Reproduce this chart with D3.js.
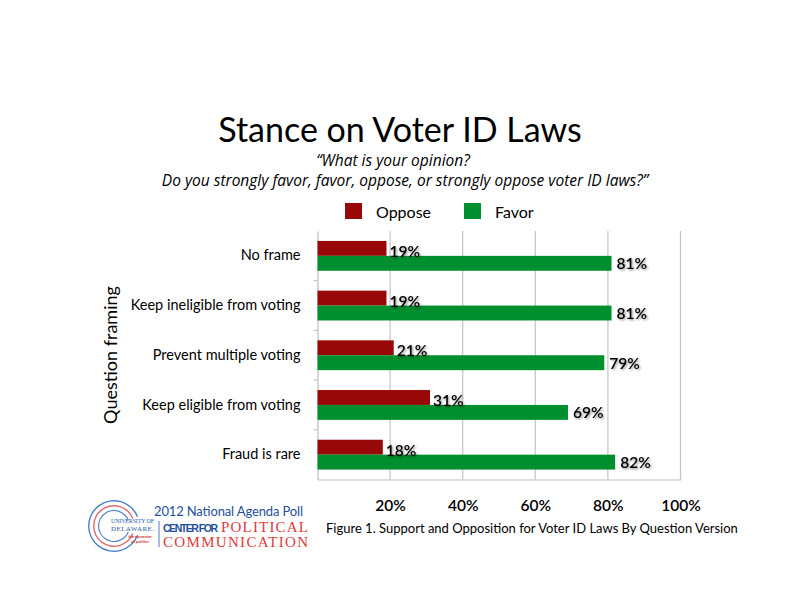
<!DOCTYPE html>
<html><head><meta charset="utf-8">
<script src="https://cdn.jsdelivr.net/npm/d3@7"></script>
<style>body{margin:0;background:#fff}svg{display:block}</style>
</head><body><svg id="c" width="800" height="600"></svg>
<script>
const categories = ["No frame","Keep ineligible from voting","Prevent multiple voting","Keep eligible from voting","Fraud is rare"];
const oppose = [19,19,21,31,18];
const favor = [81,81,79,69,82];
const seriesNames = ["Oppose","Favor"];
const xTicks = [20,40,60,80,100];
const colors = {Oppose:"#990808", Favor:"#008f2e"};

const svg = d3.select("#c");
const font = "Lato, 'Open Sans', sans-serif";
const defs = svg.append("defs");
const f = defs.append("filter").attr("id","sh").attr("x","-20%").attr("y","-20%").attr("width","150%").attr("height","150%");
f.append("feDropShadow").attr("dx",1.2).attr("dy",1.2).attr("stdDeviation",0.8).attr("flood-color","#000").attr("flood-opacity",0.45);

const m = {left:317.5, right:680.5, top:231, bottom:479.5};
const x = d3.scaleLinear().domain([0,100]).range([m.left,m.right]);
const y = d3.scaleBand().domain(categories).range([m.top,m.bottom]).paddingInner(0.4).paddingOuter(0.2);
const y1 = d3.scaleBand().domain(seriesNames).range([0,y.bandwidth()]);

// title
svg.append("text").attr("x",400).attr("y",142).attr("text-anchor","middle")
  .style("font-family",font).style("font-size","34px").attr("fill","#000").text("Stance on Voter ID Laws");
const sub = svg.append("text").attr("text-anchor","middle").style("font-family","'Open Sans', sans-serif")
  .style("font-style","italic").style("font-size","15.5px").attr("fill","#000");
sub.append("tspan").attr("x",393).attr("y",166).text("“What is your opinion?");
sub.append("tspan").attr("x",405).attr("y",186).text("Do you strongly favor, favor, oppose, or strongly oppose voter ID laws?”");

// legend
const leg = [{n:"Oppose",x:345},{n:"Favor",x:464}];
leg.forEach(l=>{
  svg.append("rect").attr("x",l.x).attr("y",203).attr("width",17).attr("height",16).attr("fill",colors[l.n]);
  svg.append("text").attr("x",l.x+31).attr("y",218).style("font-family",font).style("font-size","16px").text(l.n);
});

// gridlines
const g = svg.append("g");
g.selectAll("line.grid").data(xTicks).enter().append("line")
  .attr("x1",d=>x(d)).attr("x2",d=>x(d)).attr("y1",m.top).attr("y2",m.bottom)
  .attr("stroke","#c4c4c4").attr("stroke-width",1.2);

// axes
const xa = svg.append("g").attr("transform",`translate(0,${m.bottom})`)
  .call(d3.axisBottom(x).tickValues(xTicks).tickSize(0).tickPadding(20).tickFormat(d=>d+"%"));
xa.select(".domain").attr("stroke","#bdbdbd").attr("stroke-width",1.2);
xa.selectAll("text").style("font-family",font).style("font-size","15.5px").style("font-weight","600").attr("fill","#000");

const ya = svg.append("g").attr("transform",`translate(${m.left},0)`)
  .call(d3.axisLeft(y).tickSize(0).tickPadding(17));
ya.select(".domain").attr("stroke","#bdbdbd").attr("stroke-width",1.2);
ya.selectAll("text").style("font-family",font).style("font-size","14.5px").attr("fill","#000");
// small tick marks between categories
const bnd = d3.range(categories.length+1).map(i=>m.top + i*(m.bottom-m.top)/categories.length);
svg.selectAll("line.tk").data(bnd.slice(1,-1)).enter().append("line")
  .attr("x1",m.left-4).attr("x2",m.left).attr("y1",d=>d).attr("y2",d=>d).attr("stroke","#bdbdbd");

svg.append("text").attr("transform","translate(117,355) rotate(-90)").attr("text-anchor","middle")
  .style("font-family",font).style("font-size","18px").text("Question framing");

// bars
const rows = categories.map((c,i)=>({c, vals:[{k:"Oppose",v:oppose[i]},{k:"Favor",v:favor[i]}]}));
const grp = svg.selectAll("g.row").data(rows).enter().append("g").attr("transform",d=>`translate(0,${y(d.c)})`);
grp.selectAll("rect").data(d=>d.vals).enter().append("rect")
  .attr("x",x(0)).attr("y",d=>y1(d.k)).attr("width",d=>x(d.v)-x(0)).attr("height",y1.bandwidth())
  .attr("fill",d=>colors[d.k]);
grp.selectAll("text.lab").data(d=>d.vals).enter().append("text")
  .attr("x",d=>x(d.v)+ (d.k==="Oppose"?3:5))
  .attr("y",d=>d.k==="Oppose"? y1(d.k)+y1.bandwidth()+1 : y1(d.k)+y1.bandwidth()/2+6)
  .style("font-family",font).style("font-size","15.5px").style("font-weight","600")
  .attr("filter","url(#sh)").attr("fill","#000").text(d=>d.v+"%");

// caption
svg.append("text").attr("x",326).attr("y",533).style("font-family",font).style("font-size","13px")
  .text("Figure 1. Support and Opposition for Voter ID Laws By Question Version");

// logo
const lg = svg.append("g");
[[26,"#4a7fcc",1.4],[21,"#e46a6a",1.4],[16,"#4a7fcc",1.1]].forEach(([r,c,w])=>{
  lg.append("path").attr("transform","translate(114,526)")
    .attr("d",d3.arc()({innerRadius:r-w,outerRadius:r,startAngle:Math.PI*0.62,endAngle:Math.PI*2.38}))
    .attr("fill",c);
});
lg.append("text").attr("x",111).attr("y",523).style("font-family","'Liberation Serif',serif")
  .style("font-size","6px").attr("fill","#2a5caa").attr("textLength",43).text("UNIVERSITY OF");
lg.append("text").attr("x",111).attr("y",531).style("font-family","'Liberation Serif',serif")
  .style("font-size","7px").attr("fill","#2a5caa").attr("textLength",43).text("DELAWARE.");
lg.append("text").attr("x",140).attr("y",538).attr("text-anchor","middle").style("font-family",font)
  .style("font-size","4px").style("font-weight","bold").attr("fill","#d03030").text("the epicenter");
lg.append("text").attr("x",140).attr("y",543).attr("text-anchor","middle").style("font-family",font)
  .style("font-size","4px").style("font-weight","bold").attr("fill","#d03030").text("of politics");
lg.append("line").attr("x1",159).attr("x2",159).attr("y1",521).attr("y2",547).attr("stroke","#4a7fcc");
lg.append("text").attr("x",154).attr("y",516).style("font-family",font).style("font-size","13px")
  .attr("fill","#1f4f9e").attr("textLength",149).text("2012 National Agenda Poll");
lg.append("text").attr("x",163).attr("y",532).style("font-family","'Liberation Sans Narrow','Liberation Sans',sans-serif")
  .style("font-size","10.5px").style("font-weight","bold").attr("fill","#1f4f9e").attr("textLength",55).text("CENTER FOR");
lg.append("text").attr("x",221).attr("y",532).style("font-family","'Liberation Serif',serif")
  .style("font-size","15px").attr("fill","#e03a3a").attr("textLength",87).text("POLITICAL");
lg.append("text").attr("x",163).attr("y",547).style("font-family","'Liberation Serif',serif")
  .style("font-size","15px").attr("fill","#e03a3a").attr("textLength",145).text("COMMUNICATION");
</script></body></html>
